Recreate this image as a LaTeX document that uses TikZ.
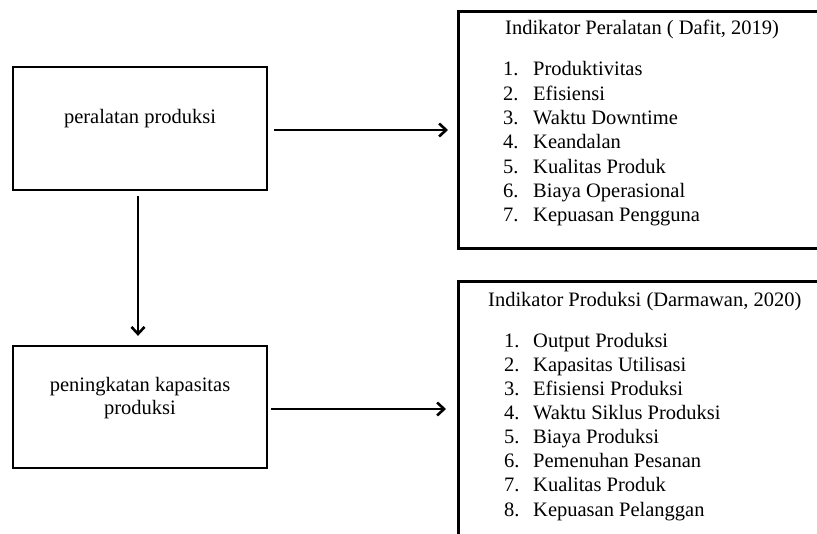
\documentclass[tikz,border=0pt]{standalone}
\usepackage{fontspec}
\setmainfont{Liberation Serif}
\usetikzlibrary{arrows.meta}
\begin{document}
\begin{tikzpicture}[x=1pt,y=-1pt,
  lbox/.style={draw, line width=2.3pt, minimum width=254pt, minimum height=123pt, inner sep=0pt},
  rbox/.style={draw, line width=3pt, anchor=north west, inner sep=0pt},
  txt/.style={anchor=base, font=\fontsize{20.5}{24.3}\selectfont, inner sep=0pt},
  item/.style={anchor=base west, font=\fontsize{20.5}{24.3}\selectfont, inner sep=0pt},
  arr/.style={line width=2.6pt, -{Straight Barb[length=7pt,width=13pt]}}
]
\useasboundingbox (0,0) rectangle (817,534);
\clip (0,0) rectangle (817,534);

\node[lbox] (b1) at (140,128.5) {};
\node[lbox, minimum height=122pt] (b2) at (140,407) {};
\node[rbox, minimum width=380pt, minimum height=237pt] (r1) at (457,10) {};
\node[rbox, minimum width=380pt, minimum height=290pt] (r2) at (457,280) {};

\node[txt] (t1) at (140,124) {peralatan produksi};
\node[txt] (t2a) at (140,391.7) {peningkatan kapasitas};
\node[txt] (t2b) at (140,415) {produksi};

\node[item] (h1) at (505,35) {Indikator Peralatan ( Dafit, 2019)};
\foreach \t [count=\k] in {Produktivitas, Efisiensi, Waktu Downtime, Keandalan, Kualitas Produk, Biaya Operasional, Kepuasan Pengguna}{
  \node[item] (pn\k) at (503,{76+(\k-1)*24.3}) {\k.};
  \node[item] (pt\k) at (533,{76+(\k-1)*24.3}) {\t};
}

\node[item] (h2) at (488,306.7) {Indikator Produksi (Darmawan, 2020)};
\foreach \t [count=\k] in {Output Produksi, Kapasitas Utilisasi, Efisiensi Produksi, Waktu Siklus Produksi, Biaya Produksi, Pemenuhan Pesanan, Kualitas Produk, Kepuasan Pelanggan}{
  \node[item] (qn\k) at (504,{347.3+(\k-1)*24.1}) {\k.};
  \node[item] (qt\k) at (533,{347.3+(\k-1)*24.1}) {\t};
}

\draw[arr] ([xshift=6pt,yshift=-1.5pt]b1.east) -- ([xshift=-9pt,yshift=-1.5pt]b1.east -| r1.west);
\draw[arr] ([xshift=3pt,yshift=-2pt]b2.east) -- ([xshift=-11pt,yshift=-2pt]b2.east -| r2.west);
\draw[arr] ([xshift=-2pt,yshift=-5pt]b1.south) -- ([xshift=-2pt,yshift=9pt]b2.north);
\end{tikzpicture}
\end{document}
